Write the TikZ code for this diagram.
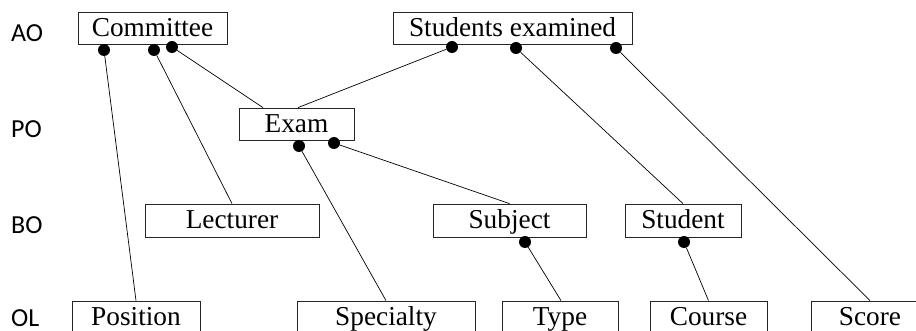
\documentclass[tikz,border=0pt]{standalone}
\usepackage{fontspec}
\setmainfont{Liberation Serif}
\newfontfamily\labfont{Carlito}
\begin{document}
\begin{tikzpicture}[x=1pt,y=-1pt,
  box/.style={draw=black!85,line width=0.8pt,rectangle,inner sep=0pt,minimum height=32pt,
    text height=19pt,text depth=2pt,
    font=\fontsize{27.3}{30}\selectfont},
  dot/.style={circle,fill=black,inner sep=0pt,minimum size=12pt},
  conn/.style={line width=0.7pt},
  lab/.style={anchor=base west,inner sep=0pt,font=\labfont\fontsize{26}{30}\selectfont}]
\useasboundingbox (0,0) rectangle (916,331);
\clip (0,0) rectangle (916,331);
% level labels
\node[lab] (lAO) at (11,42) {AO};
\node[lab] (lPO) at (11,138) {PO};
\node[lab] (lBO) at (11,234) {BO};
\node[lab] (lOL) at (11,326) {OL};
% boxes
\node[box,minimum width=149pt] (committee) at (152.5,28) {Committee};
\node[box,minimum width=239pt] (students) at (512.5,28) {Students examined};
\node[box,minimum width=115pt] (exam) at (296.5,124) {Exam};
\node[box,minimum width=174pt,minimum height=33pt] (lecturer) at (232,220.5) {Lecturer};
\node[box,minimum width=153pt,minimum height=33pt] (subject) at (509.5,220.5) {Subject};
\node[box,minimum width=116pt,minimum height=33pt] (student) at (683,220.5) {Student};
\node[box,minimum width=128pt] (position) at (136,317) {Position};
\node[box,minimum width=178pt] (specialty) at (386,317) {Specialty};
\node[box,minimum width=116pt] (type) at (560,317) {Type};
\node[box,minimum width=117pt] (course) at (708.5,317) {Course};
\node[box,minimum width=118pt] (score) at (870,317) {Score};
% dots
\node[dot] (c1) at (104,50) {};
\node[dot] (c2) at (154,50) {};
\node[dot] (c3) at (172,47) {};
\node[dot] (s1) at (452,47) {};
\node[dot] (s2) at (516,48) {};
\node[dot] (s3) at (616,48) {};
\node[dot] (e1) at (299,146) {};
\node[dot] (e2) at (334,143) {};
\node[dot] (sb) at (525,242) {};
\node[dot] (st) at (684,242) {};
% connectors
\draw[conn] (c1) -- (position.north);
\draw[conn] (c2) -- (lecturer.north);
\draw[conn] (c3) -- ([xshift=-33.5pt]exam.north);
\draw[conn] (s1) -- ([xshift=1.5pt]exam.north);
\draw[conn] (s2) -- (student.north);
\draw[conn] (s3) -- (score.north);
\draw[conn] (e1) -- (specialty.north);
\draw[conn] (e2) -- (subject.north);
\draw[conn] (sb) -- ([xshift=1pt]type.north);
\draw[conn] (st) -- (course.north);
\end{tikzpicture}
\end{document}
